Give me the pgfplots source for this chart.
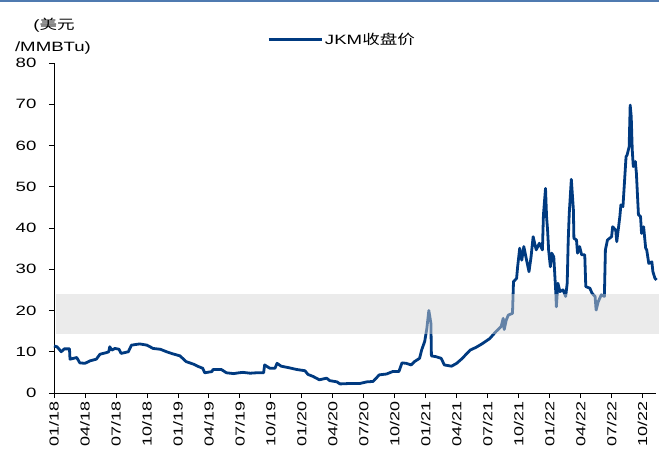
\documentclass[border=0pt]{standalone}
\usepackage{pgfplots}
\pgfplotsset{compat=1.18}
\usepackage{fontspec}
\setmainfont{Liberation Sans}[FakeStretch=1.38]
\newfontfamily\cjk{Noto Sans CJK SC}[FakeStretch=1.3]

\definecolor{jkm}{RGB}{0,58,128}
\definecolor{topbar}{RGB}{79,122,176}
\definecolor{band}{RGB}{212,212,212}

% JKM closing price, USD/MMBtu; x = months since Jan 2018
\pgfplotstableread{
m v
0.0 11.4
0.3 11.2
0.7 10.0
1.0 10.7
1.5 10.7
1.55 8.2
2.2 8.6
2.5 7.3
3.0 7.2
3.5 7.8
4.1 8.2
4.45 9.4
5.1 9.8
5.3 10.0
5.4 11.2
5.6 10.4
5.9 10.8
6.3 10.6
6.5 9.6
7.2 10.0
7.5 11.6
8.3 11.9
9.0 11.6
9.6 10.8
10.3 10.6
10.9 10.0
11.5 9.5
12.2 9.0
12.8 7.6
13.5 7.0
14.0 6.4
14.4 6.0
14.6 4.9
15.3 5.2
15.4 5.7
16.2 5.7
16.7 4.9
17.4 4.7
17.9 4.9
18.3 5.0
19.0 4.8
19.6 4.9
20.3 4.9
20.4 6.8
20.9 6.0
21.4 6.0
21.6 7.2
22.0 6.5
22.8 6.1
23.5 5.7
24.3 5.4
24.6 4.5
25.1 4.0
25.7 3.2
26.4 3.6
26.7 3.0
27.4 2.7
27.7 2.2
28.6 2.3
29.6 2.3
30.3 2.7
30.9 2.8
31.2 3.6
31.5 4.4
32.2 4.6
32.8 5.2
33.4 5.2
33.7 7.3
34.1 7.2
34.6 6.8
34.9 7.6
35.4 8.4
35.6 10.4
35.9 12.5
36.1 15.5
36.3 20.0
36.5 16.9
36.55 9.0
37.0 8.8
37.5 8.4
37.8 6.8
38.5 6.5
39.0 7.2
39.5 8.3
40.3 10.4
40.9 11.1
41.5 12.0
42.2 13.2
42.8 14.9
43.3 16.1
43.5 18.1
43.6 15.4
43.8 17.7
44.0 18.9
44.4 19.3
44.5 27.0
44.8 27.8
44.9 30.6
45.1 35.1
45.3 32.2
45.5 35.5
45.7 33.0
46.0 29.4
46.2 33.0
46.4 37.9
46.7 34.7
47.0 36.3
47.3 34.7
47.4 43.2
47.6 49.6
47.7 42.8
47.8 39.5
47.9 34.7
48.07 30.6
48.2 33.9
48.4 33.0
48.6 24.2
48.65 20.9
48.8 26.6
49.0 24.6
49.3 25.0
49.55 23.4
49.7 26.6
49.8 37.1
49.9 43.6
50.1 51.8
50.3 44.4
50.35 37.5
50.6 37.1
50.7 33.9
50.9 35.5
51.1 33.5
51.4 33.5
51.5 25.8
51.9 25.4
52.1 24.2
52.4 23.4
52.5 20.1
52.7 22.1
53.0 23.8
53.3 23.4
53.4 34.7
53.6 37.1
54.0 37.9
54.1 40.3
54.4 39.5
54.5 36.7
54.8 42.8
54.9 45.6
55.1 45.2
55.4 57.3
55.5 57.7
55.7 59.7
55.8 69.8
55.9 67.0
56.0 58.9
56.1 54.9
56.3 56.1
56.4 53.3
56.6 43.2
56.8 42.8
56.9 38.7
57.1 40.3
57.3 35.1
57.4 34.7
57.6 31.4
57.9 31.8
58.0 29.4
58.2 27.8
58.35 27.4
}\jkmdata

\begin{document}
\begin{tikzpicture}[x=1pt,y=1pt]
\path[use as bounding box] (0,0) rectangle (659,453);
\fill[topbar] (0,450.5) rectangle (659,453);
\begin{axis}[
  at={(54pt,60pt)}, anchor=south west,
  scale only axis,
  width=602pt, height=330pt,
  xmin=0, xmax=58.3, ymin=0, ymax=80,
  axis x line*=bottom, axis y line*=left,
  axis line style={-, line width=0.8pt, black},
  tick align=outside,
  major tick length=5pt,
  every tick/.style={line width=0.8pt, black},
  xtick={0,3,...,57},
  xticklabels={01/18,04/18,07/18,10/18,01/19,04/19,07/19,10/19,01/20,04/20,07/20,10/20,01/21,04/21,07/21,10/21,01/22,04/22,07/22,10/22},
  xticklabel style={rotate=90, anchor=east, font=\fontsize{13}{13}\selectfont},
  ytick={0,10,...,80},
  yticklabel style={font=\fontsize{13.5}{13.5}\selectfont, xshift=-9pt},
  /pgf/number format/assume math mode=true,
  clip=false,
  legend style={at={(0.3538,1.0718)}, anchor=west, draw=none, fill=none,
    inner sep=0pt, font=\fontsize{13.5}{13.5}\selectfont},
  legend image code/.code={\draw[#1, line width=2.8pt] (0pt,0pt) -- (53pt,0pt);},
]
\addplot[jkm, line width=2.8pt, line join=round, no markers] table[x=m, y=v] {\jkmdata};
\addlegendentry{JKM{\cjk 收盘价}}
% translucent reference band
\fill[band, fill opacity=0.47] (axis cs:0.15,14.4) rectangle (axis cs:58.55,24);
\end{axis}
\node[anchor=base, font=\fontsize{13.5}{13.5}\selectfont] at (54,423) {({\cjk 美元}};
\node[anchor=base, font=\fontsize{13.5}{13.5}\selectfont] at (53,401) {/MMBTu)};
\end{tikzpicture}
\end{document}
